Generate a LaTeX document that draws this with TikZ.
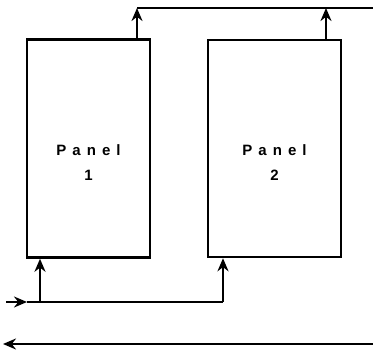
\documentclass[tikz,border=0pt]{standalone}
\usepackage{fontspec}
\setsansfont{Liberation Sans}
\usepackage{tikz}
\usetikzlibrary{arrows.meta,positioning,calc}

\begin{document}
\begin{tikzpicture}[x=1pt,y=-1pt,line width=2.6pt,
    panelbox/.style={draw,rectangle,inner sep=0pt},
    paneltext/.style={align=center,inner sep=0pt,
      font=\sffamily\bfseries\fontsize{15}{25}\selectfont\addfontfeature{LetterSpace=40}},
    flow/.style={-{Stealth[length=13pt,width=11pt]}}]
  \useasboundingbox (0,0) rectangle (373,352);
  \node[panelbox,minimum width=123pt,minimum height=218pt] (p1) at (88.5,148.5) {};
  \node[panelbox,minimum width=133pt,minimum height=217pt] (p2) at (274.5,148.5) {};
  \node[paneltext] (t1) at ([yshift=-14pt]p1.center) {Panel\\1};
  \node[paneltext] (t2) at ([yshift=-14pt]p2.center) {Panel\\2};
  \coordinate (o1) at (137,8);
  \coordinate (o2) at (326,8);
  \coordinate (topR) at (373,8);
  \coordinate (inL) at (6,302);
  \coordinate (inT) at (27,302);
  \coordinate (i1) at (40,302);
  \coordinate (i2) at (223,302);
  \coordinate (retR) at (373,344);
  \coordinate (retL) at (3,344);
  \draw (o1) -- (topR);
  \draw[flow] (p1.north -| o1) -- (o1);
  \draw[flow] (p2.north -| o2) -- (o2);
  \draw[flow] (inL) -- (inT);
  \draw (inT) -- (i2);
  \draw[flow] (i1) -- (p1.south -| i1);
  \draw[flow] (i2) -- (p2.south -| i2);
  \draw[flow] (retR) -- (retL);
\end{tikzpicture}
\end{document}
